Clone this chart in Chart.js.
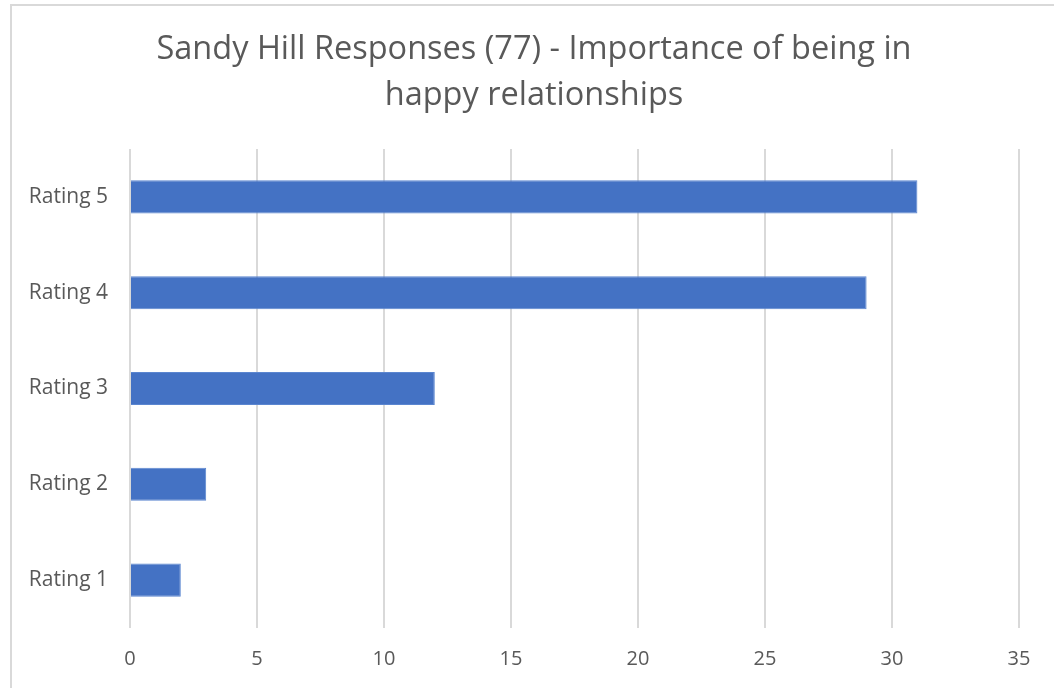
<!DOCTYPE html>
<html>
<head>
<meta charset="utf-8">
<script src="https://cdn.jsdelivr.net/npm/chart.js@4.4.0/dist/chart.umd.min.js"></script>
<style>
html,body{margin:0;padding:0;background:#fff;}
#wrap{position:relative;width:1054px;height:688px;}
</style>
</head>
<body>
<div id="wrap"><canvas id="c" width="1054" height="688"></canvas></div>
<script>
const categories = ["Rating 5", "Rating 4", "Rating 3", "Rating 2", "Rating 1"];
const responses = [31, 29, 12, 3, 2];
const titleLines = ["Sandy Hill Responses (77) - Importance of being in", "happy relationships"];
const xMax = 35;
const xStep = 5;

const FONT = "'Open Sans', 'Noto Sans', sans-serif";
const TEXT = '#595959';

const borderPlugin = {
  id: 'frame',
  beforeDraw(chart) {
    const ctx = chart.ctx;
    ctx.save();
    ctx.fillStyle = '#fff';
    ctx.fillRect(0, 0, chart.width, chart.height);
    ctx.strokeStyle = '#d9d9d9';
    ctx.lineWidth = 2;
    ctx.strokeRect(11, 5, chart.width + 20, chart.height + 20);
    ctx.restore();
  }
};

new Chart(document.getElementById('c'), {
  type: 'bar',
  data: {
    labels: categories,
    datasets: [{
      data: responses,
      backgroundColor: '#4472c4',
      borderColor: '#5b86d0',
      borderWidth: 1,
      barPercentage: 0.69,
      categoryPercentage: 0.5
    }]
  },
  options: {
    indexAxis: 'y',
    responsive: false,
    animation: false,
    layout: { padding: { left: 14, right: 0, top: 0, bottom: 0 } },
    plugins: {
      legend: { display: false },
      tooltip: { enabled: false },
      title: {
        display: true,
        text: titleLines,
        color: TEXT,
        font: { family: FONT, size: 32.5, weight: 'normal', lineHeight: 1.4 },
        padding: { top: 27, bottom: 31 }
      }
    },
    scales: {
      x: {
        min: 0,
        max: xMax,
        ticks: { stepSize: xStep, color: TEXT, font: { family: FONT, size: 20 }, padding: 19 },
        grid: { color: '#d9d9d9', lineWidth: 2, drawTicks: false },
        border: { display: false },
        afterFit(scale) { scale.height = 60; }
      },
      y: {
        ticks: { color: TEXT, font: { family: FONT, size: 21 }, padding: 22 },
        grid: { display: false, drawTicks: false },
        border: { display: false },
        afterFit(scale) { scale.width = 116; }
      },
      yRight: {
        position: 'right',
        display: true,
        ticks: { display: false },
        grid: { display: false, drawTicks: false },
        border: { display: false },
        afterFit(scale) { scale.width = 35; }
      }
    }
  },
  plugins: [borderPlugin]
});
</script>
</body>
</html>
